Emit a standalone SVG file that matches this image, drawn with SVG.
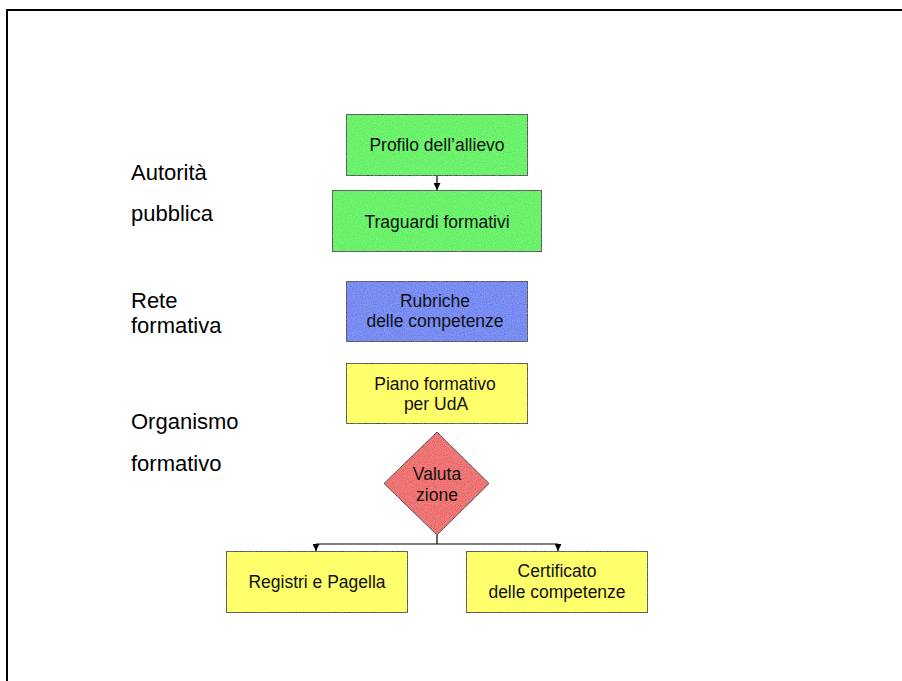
<svg xmlns="http://www.w3.org/2000/svg" width="902" height="681" viewBox="0 0 902 681">
<style>
.lbl{font-family:"Liberation Sans",Arial,sans-serif;font-size:22px;fill:#000}
.t{font-family:"Liberation Sans",Arial,sans-serif;font-size:17.5px;fill:#111;text-anchor:middle}
.box{stroke:#000;stroke-width:1}
.con{stroke:#000;stroke-width:1.2;fill:none}
</style>
<defs>
<filter id="noise" x="0" y="0" width="100%" height="100%">
<feTurbulence type="fractalNoise" baseFrequency="0.9" numOctaves="2" seed="3" result="n"/>
<feColorMatrix in="n" type="matrix" values="0 0 0 0 1  0 0 0 0 1  0 0 0 0 1  0 0 0 0.25 0" result="w"/>
<feComposite in="w" in2="SourceGraphic" operator="in" result="wm"/>
<feMerge><feMergeNode in="SourceGraphic"/><feMergeNode in="wm"/></feMerge>
</filter>
<marker id="ah" viewBox="0 0 10 10" refX="10" refY="5" markerWidth="7" markerHeight="7" markerUnits="userSpaceOnUse" orient="auto">
<path d="M0,0 L10,5 L0,10 z" fill="#000"/>
</marker>
</defs>
<rect width="902" height="681" fill="#fff"/>
<path d="M7,681 V10 H902" stroke="#000" stroke-width="2" fill="none"/>
<g id="labels">
<text class="lbl" x="131" y="180">Autorità</text>
<text class="lbl" x="131" y="221">pubblica</text>
<text class="lbl" x="131" y="308">Rete</text>
<text class="lbl" x="131" y="333">formativa</text>
<text class="lbl" x="131" y="429">Organismo</text>
<text class="lbl" x="131" y="471">formativo</text>
</g>
<g id="connectors">
<line class="con" x1="437" y1="175" x2="437" y2="190" marker-end="url(#ah)"/>
<polyline class="con" points="437,535 437,544"/>
<line class="con" x1="316" y1="544" x2="558" y2="544"/>
<line class="con" x1="316" y1="544" x2="316" y2="551" marker-end="url(#ah)"/>
<line class="con" x1="558" y1="544" x2="558" y2="551" marker-end="url(#ah)"/>
</g>
<g id="profilo">
<rect class="box" x="346.5" y="114.5" width="181" height="61" fill="#30f030" filter="url(#noise)"/>
<text class="t" x="437" y="151">Profilo dell’allievo</text>
</g>
<g id="traguardi">
<rect class="box" x="332.5" y="190.5" width="209" height="61" fill="#30f030" filter="url(#noise)"/>
<text class="t" x="437" y="228">Traguardi formativi</text>
</g>
<g id="rubriche">
<rect class="box" x="346.5" y="281.5" width="181" height="60" fill="#5070f0" filter="url(#noise)"/>
<text class="t" x="435" y="307">Rubriche</text>
<text class="t" x="435" y="327">delle competenze</text>
</g>
<g id="piano">
<rect class="box" x="346.5" y="363.5" width="181" height="60" fill="#ffff30" filter="url(#noise)"/>
<text class="t" x="435" y="390">Piano formativo</text>
<text class="t" x="436" y="410">per UdA</text>
</g>
<g id="valutazione">
<polygon class="box" points="437,432 489,483.5 437,535 384,483.5" fill="#ec4444" filter="url(#noise)"/>
<text class="t" x="437" y="480">Valuta</text>
<text class="t" x="437" y="501">zione</text>
</g>
<g id="registri">
<rect class="box" x="226.5" y="551.5" width="181" height="61" fill="#ffff30" filter="url(#noise)"/>
<text class="t" x="317" y="588">Registri e Pagella</text>
</g>
<g id="certificato">
<rect class="box" x="466.5" y="551.5" width="181" height="61" fill="#ffff30" filter="url(#noise)"/>
<text class="t" x="557" y="577">Certificato</text>
<text class="t" x="557" y="598">delle competenze</text>
</g>
</svg>
